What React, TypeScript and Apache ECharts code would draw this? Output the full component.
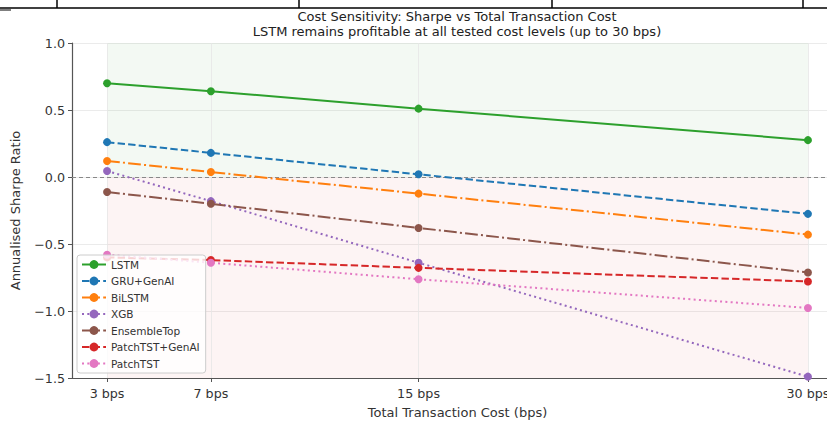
import React, { useEffect, useRef } from "react";
import * as echarts from "echarts";

const costs = [3, 7, 15, 30];
const costLabels = ["3 bps", "7 bps", "15 bps", "30 bps"];
const seriesNames = ["LSTM", "GRU+GenAI", "BiLSTM", "XGB", "EnsembleTop", "PatchTST+GenAI", "PatchTST"];
const lstm = [0.70, 0.64, 0.51, 0.275];
const gruGenAI = [0.26, 0.18, 0.02, -0.275];
const bilstm = [0.12, 0.037, -0.124, -0.43];
const xgb = [0.045, -0.18, -0.64, -1.49];
const ensembleTop = [-0.112, -0.20, -0.38, -0.713];
const patchTSTGenAI = [-0.60, -0.62, -0.678, -0.78];
const patchTST = [-0.58, -0.64, -0.763, -0.977];

const seriesValues = [lstm, gruGenAI, bilstm, xgb, ensembleTop, patchTSTGenAI, patchTST];
const colors = ["#2ca02c", "#1f77b4", "#ff7f0e", "#9467bd", "#8c564b", "#d62728", "#e377c2"];
const dashStyles: any[] = [
  "solid",
  [7.4, 3.2],
  [12.8, 3.2, 2, 3.2],
  [2, 3.3],
  [12.8, 3.2, 2, 3.2],
  [7.4, 3.2],
  [2, 3.3],
];

const FONT = "DejaVu Sans";

export default function App() {
  const ref = useRef<HTMLDivElement>(null);
  useEffect(() => {
    document.body.style.margin = "0";
    if (!ref.current) return;
    const chart = echarts.init(ref.current, undefined, { renderer: "svg" });
    const lineSeries = seriesNames.map((name, i) => ({
      name,
      type: "line",
      data: costs.map((c, j) => [c, seriesValues[i][j]]),
      symbol: "circle",
      symbolSize: 8,
      z: 3 + i,
      itemStyle: { color: colors[i] },
      lineStyle: { color: colors[i], width: 2, type: dashStyles[i], cap: "butt" },
      emphasis: { disabled: true },
    }));
    const option: any = {
      animation: false,
      textStyle: { fontFamily: FONT },
      grid: { left: 72, top: 43, width: 771, height: 335, containLabel: false, outerBoundsMode: "none" },
      xAxis: {
        type: "value",
        min: 1.65,
        max: 31.35,
        splitLine: { show: false },
        axisLine: { show: true, onZero: false, lineStyle: { color: "#555", width: 1.2 } },
        axisTick: { show: true, customValues: costs, length: 4, lineStyle: { color: "#555" } },
        axisLabel: {
          customValues: costs,
          formatter: (v: number) => costLabels[costs.indexOf(v)] ?? "",
          color: "#333",
          fontSize: 12.7,
          fontFamily: FONT,
          margin: 9,
        },
        name: "Total Transaction Cost (bps)",
        nameLocation: "middle",
        nameGap: 28,
        nameTextStyle: { color: "#333", fontSize: 13, fontFamily: FONT },
      },
      yAxis: {
        type: "value",
        min: -1.5,
        max: 1.0,
        interval: 0.5,
        axisLine: { show: true, lineStyle: { color: "#555", width: 1.2 } },
        axisTick: { show: true, length: 4, lineStyle: { color: "#555" } },
        splitLine: { show: true, lineStyle: { color: "#e6e6e6", width: 0.8 } },
        axisLabel: {
          formatter: (v: number) => (v < 0 ? "\u2212" + Math.abs(v).toFixed(1) : v.toFixed(1)),
          color: "#333",
          fontSize: 12.7,
          fontFamily: FONT,
          margin: 7,
        },
        name: "Annualised Sharpe Ratio",
        nameLocation: "middle",
        nameGap: 50,
        nameRotate: 90,
        nameTextStyle: { color: "#333", fontSize: 13, fontFamily: FONT },
      },
      legend: {
        data: seriesNames,
        orient: "vertical",
        left: 77,
        top: 255,
        itemWidth: 24,
        itemHeight: 11,
        itemGap: 5.5,
        padding: [4, 6, 4, 4],
        backgroundColor: "rgba(255,255,255,0.8)",
        borderColor: "#cccccc",
        borderWidth: 1,
        borderRadius: 3,
        textStyle: { color: "#333", fontSize: 10.5, fontFamily: FONT },
        selectedMode: false,
        z: 20,
      },
      graphic: [
        { type: "line", shape: { x1: 0, y1: 8, x2: 827, y2: 8 }, style: { stroke: "#000", lineWidth: 1.5 } },
        { type: "line", shape: { x1: 0, y1: 10, x2: 11, y2: 10 }, style: { stroke: "#000", lineWidth: 1 } },
        { type: "line", shape: { x1: 57, y1: 0, x2: 57, y2: 8 }, style: { stroke: "#000", lineWidth: 1.5 } },
        { type: "line", shape: { x1: 299, y1: 0, x2: 299, y2: 8 }, style: { stroke: "#000", lineWidth: 1.5 } },
        { type: "line", shape: { x1: 552, y1: 0, x2: 552, y2: 8 }, style: { stroke: "#000", lineWidth: 1.5 } },
        { type: "line", shape: { x1: 803, y1: 0, x2: 803, y2: 8 }, style: { stroke: "#000", lineWidth: 1.5 } },
        {
          type: "text",
          x: 457,
          y: 16,
          style: {
            text: "Cost Sensitivity: Sharpe vs Total Transaction Cost",
            fontFamily: FONT,
            fontSize: 13,
            fill: "#222",
            textAlign: "center",
            textVerticalAlign: "middle",
          },
        },
        {
          type: "text",
          x: 457,
          y: 31,
          style: {
            text: "LSTM remains profitable at all tested cost levels (up to 30 bps)",
            fontFamily: FONT,
            fontSize: 13,
            fill: "#222",
            textAlign: "center",
            textVerticalAlign: "middle",
          },
        },
      ],
      series: [
        {
          name: "bg",
          type: "line",
          data: [],
          z: 1,
          silent: true,
          markArea: {
            silent: true,
            z: 1,
            data: [
              [
                { xAxis: costs[0], yAxis: 0, itemStyle: { color: "rgba(44,160,44,0.06)" } },
                { xAxis: costs[costs.length - 1], yAxis: 1.0 },
              ],
              [
                { xAxis: costs[0], yAxis: -1.5, itemStyle: { color: "rgba(214,39,40,0.05)" } },
                { xAxis: costs[costs.length - 1], yAxis: 0 },
              ],
            ],
          },
          markLine: {
            silent: true,
            z: 1,
            symbol: "none",
            label: { show: false },
            data: [
              ...costs.map((c) => ({ xAxis: c, lineStyle: { color: "#e6e6e6", width: 0.8, type: "solid" } })),
              { yAxis: 0, lineStyle: { color: "#888", width: 1.2, type: [4, 3] } },
            ],
          },
        },
        ...lineSeries,
      ],
    };
    chart.setOption(option);
    return () => chart.dispose();
  }, []);
  return <div ref={ref} style={{ width: 827, height: 421 }} />;
}
